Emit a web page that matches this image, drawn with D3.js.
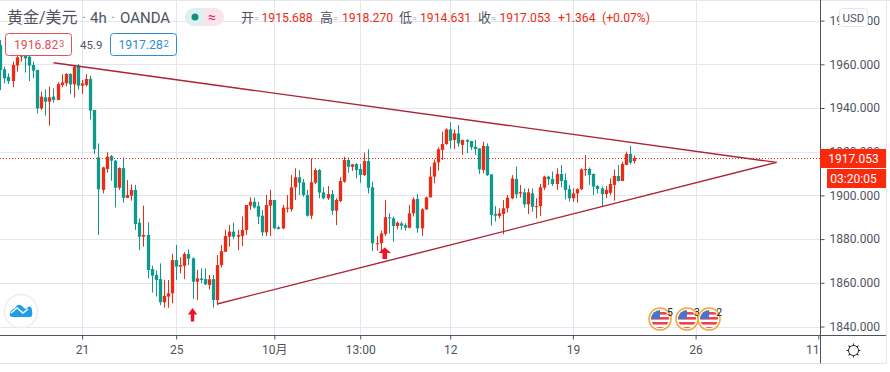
<!DOCTYPE html>
<html>
<head>
<meta charset="utf-8">
<script src="https://cdn.jsdelivr.net/npm/d3@7"></script>
<style>
  body { margin: 0; background: #fff; }
  text { font-family: Roboto, "Noto Sans CJK SC", sans-serif; }
</style>
</head>
<body>
<svg id="chart" width="890" height="372"></svg>
<script>
// 4h candles
const opens = [
  1968.8,1957.7,1954.3,1952.3,1959.4,1963.5,1966.5,1963.5,1959.7,1957.4,
  1939.8,1944.9,1942.9,1945.2,1943.7,1950.5,1951.3,1955.6,1950.8,1959.4,
  1950.2,1950.5,1953.3,1939.1,1917.4,1902.5,1912.1,1918.0,1915.9,1903.5,
  1912.5,1898.9,1899.9,1902.5,1887.5,1881.1,1881.9,1866.3,1863.6,1861.7,
  1851.1,1853.7,1855.2,1870.4,1867.4,1867.8,1873.2,1871.2,1860.5,1862.0,
  1861.7,1859.0,1861.7,1852.1,1868.1,1874.2,1881.1,1883.4,1881.1,1881.4,
  1884.2,1895.3,1897.1,1895.1,1890.7,1883.1,1895.3,1897.9,1885.4,1884.9,
  1893.9,1893.6,1903.7,1908.3,1906.0,1900.2,1890.7,1905.8,1911.6,1901.4,
  1898.7,1900.6,1893.0,1897.4,1906.3,1916.2,1913.1,1914.4,1912.1,1909.3,
  1915.7,1903.7,1877.9,1878.1,1882.3,1890.0,1889.5,1886.0,1887.2,1886.4,
  1885.2,1891.8,1898.4,1884.9,1893.6,1899.1,1908.6,1915.1,1920.8,1923.5,
  1930.2,1925.4,1928.4,1923.1,1925.4,1924.9,1922.3,1921.5,1911.6,1922.6,
  1909.6,1891.5,1890.6,1891.5,1894.1,1898.7,1907.5,1900.9,1901.4,1895.9,
  1900.9,1894.8,1895.1,1903.5,1908.6,1907.5,1905.2,1909.8,1907.0,1902.9,
  1898.7,1900.9,1902.8,1911.6,1912.1,1909.8,1904.3,1903.2,1900.6,1901.2,
  1904.8,1908.9,1906.6,1913.9,1919.0,1915.688
];
const highs = [
  1971.1,1958.9,1955.9,1961.2,1963.8,1966.5,1968.0,1966.5,1961.2,1957.4,
  1947.5,1948.5,1949.8,1949.0,1951.7,1955.4,1955.9,1955.9,1959.7,1960.1,
  1952.8,1955.4,1954.8,1939.1,1923.8,1913.1,1919.7,1918.5,1916.2,1912.8,
  1917.4,1907.0,1905.0,1904.8,1889.5,1895.3,1887.7,1867.8,1865.6,1868.9,
  1861.3,1861.3,1873.2,1877.3,1871.7,1874.0,1875.3,1871.7,1865.9,1866.6,
  1866.6,1863.6,1863.6,1872.7,1877.3,1884.2,1886.5,1887.5,1884.2,1890.3,
  1895.6,1899.1,1899.0,1897.1,1893.3,1900.2,1902.5,1897.9,1886.0,1895.6,
  1900.2,1909.3,1912.4,1911.6,1907.5,1902.5,1917.0,1912.4,1912.1,1903.7,
  1904.3,1902.5,1898.7,1908.3,1917.7,1917.4,1914.4,1914.7,1914.4,1919.6,
  1921.1,1906.3,1881.4,1883.9,1897.9,1891.8,1890.3,1888.0,1888.0,1887.2,
  1895.6,1899.1,1900.6,1894.1,1899.4,1913.1,1916.5,1922.0,1929.2,1930.7,
  1933.3,1930.2,1932.2,1925.4,1925.7,1925.0,1925.4,1921.5,1924.6,1923.8,
  1909.6,1895.1,1894.1,1897.9,1900.2,1909.3,1913.2,1904.8,1903.2,1903.2,
  1903.2,1898.7,1905.2,1909.0,1909.0,1910.9,1912.4,1913.9,1910.1,1904.8,
  1903.2,1903.2,1912.4,1918.5,1912.8,1910.1,1904.8,1904.0,1904.3,1907.8,
  1911.9,1913.9,1915.4,1920.0,1922.6,1918.270
];
const lows = [
  1948.2,1951.3,1951.0,1949.5,1956.6,1961.2,1956.2,1952.3,1953.6,1937.6,
  1939.1,1936.5,1931.9,1942.4,1943.7,1949.5,1950.0,1946.4,1944.7,1948.5,
  1946.4,1949.8,1934.8,1918.9,1881.9,1900.9,1910.4,1906.7,1894.5,1902.5,
  1896.7,1898.9,1897.6,1884.2,1875.0,1876.5,1862.0,1855.5,1853.7,1849.8,
  1848.6,1848.6,1850.6,1861.3,1864.3,1861.7,1868.1,1852.6,1852.1,1859.8,
  1859.0,1857.0,1848.6,1849.8,1867.0,1874.2,1876.5,1880.0,1875.0,1876.8,
  1881.9,1893.3,1894.0,1886.9,1881.4,1881.4,1881.4,1884.5,1884.5,1884.6,
  1892.2,1892.6,1897.9,1900.2,1899.4,1890.3,1889.2,1905.2,1898.7,1898.2,
  1897.9,1891.0,1886.4,1897.0,1905.8,1910.4,1911.2,1907.8,1905.8,1908.9,
  1900.9,1874.5,1874.7,1873.5,1881.4,1882.6,1878.8,1884.5,1884.2,1883.9,
  1884.9,1890.3,1882.9,1881.4,1893.3,1899.1,1905.5,1911.3,1916.2,1923.1,
  1921.5,1921.2,1922.3,1918.5,1919.3,1920.8,1918.5,1909.8,1910.1,1908.9,
  1886.1,1888.0,1889.5,1882.2,1892.2,1898.2,1898.7,1899.0,1894.4,1891.5,
  1892.6,1889.5,1890.6,1902.5,1904.8,1904.3,1902.5,1903.7,1898.2,1897.1,
  1897.1,1896.7,1902.5,1909.0,1904.8,1900.2,1900.9,1894.8,1898.7,1900.2,
  1897.6,1906.3,1906.6,1913.9,1914.2,1914.631
];
const closes = [
  1957.4,1953.6,1952.3,1959.7,1963.2,1965.8,1962.7,1959.4,1957.1,1939.8,
  1945.2,1942.9,1944.9,1943.7,1951.0,1951.7,1955.6,1950.8,1958.9,1950.2,
  1951.3,1953.3,1938.8,1921.2,1902.8,1912.8,1917.7,1915.9,1903.5,1912.5,
  1898.9,1900.2,1902.5,1886.9,1881.1,1881.9,1865.8,1863.3,1861.3,1851.1,
  1854.0,1855.2,1870.4,1867.4,1868.1,1873.2,1871.0,1860.5,1862.0,1861.3,
  1859.3,1861.6,1852.1,1868.1,1874.5,1881.4,1883.4,1881.1,1881.9,1884.2,
  1895.6,1897.1,1894.5,1890.3,1883.1,1895.6,1897.9,1884.9,1884.6,1894.4,
  1894.4,1903.7,1908.3,1905.8,1900.2,1890.7,1906.0,1911.6,1901.3,1898.7,
  1900.6,1893.0,1897.9,1906.6,1916.2,1913.1,1914.2,1911.6,1909.3,1915.7,
  1903.5,1878.1,1878.1,1882.6,1890.0,1889.5,1886.0,1887.5,1886.1,1885.2,
  1891.8,1898.2,1884.9,1893.6,1899.1,1908.6,1915.1,1921.1,1923.5,1930.2,
  1925.0,1928.4,1923.8,1925.4,1924.6,1922.0,1921.2,1911.9,1922.6,1909.3,
  1891.0,1890.7,1891.8,1894.1,1899.0,1907.8,1900.5,1901.5,1895.9,1901.4,
  1894.8,1895.1,1903.7,1908.6,1907.4,1905.2,1909.8,1906.6,1902.5,1898.7,
  1900.9,1902.9,1911.9,1912.1,1909.3,1904.0,1902.9,1900.6,1902.5,1905.2,
  1908.9,1906.6,1914.4,1919.0,1915.0,1917.053
];

const priceTicks = [1980, 1960, 1940, 1920, 1900, 1880, 1860, 1840];
const timeIdx = [20, 43, 67, 88, 110, 140, 170, 200];
const timeLabels = ['21', '25', '10月', '13:00', '12', '19', '26', '11'];

// trend lines as [candle index, price]
const upperLine = [[13, 1960.7], [189.8, 1915.1]];
const lowerLine = [[53, 1850.3], [189.8, 1915.1]];

const lastPrice = 1917.053;
const arrows = [{ i: 47, p: 1848.5, sx: 0.85, sy: 1 }, { i: 94, p: 1876.2, sx: 1.15, sy: 0.85 }];
const events = [{ i: 161.3, n: '5' }, { i: 167.9, n: '3' }, { i: 173.3, n: '2' }];
const eventPrice = 1843.4;

const RED = '#ea2c16', TEAL = '#0d9a8a', GRID = '#e3e6ec', AXIS = '#50535e', TEXT = '#50535e';
const TREND = '#ac2236';

const svg = d3.select('#chart');
const axisX = 820.5, axisY = 335.5, bottomY = 363.5;

const x = d3.scaleLinear().domain([0, 200]).range([0.3, 818.3]);
const y = d3.scaleLinear().domain([1840, 1980]).range([326.5, 20.6]);

// frame
svg.append('line').attr('x1', 0).attr('x2', 890).attr('y1', 0.5).attr('y2', 0.5).attr('stroke', GRID);
svg.append('line').attr('x1', 0).attr('x2', 886).attr('y1', bottomY).attr('y2', bottomY).attr('stroke', GRID);
svg.append('line').attr('x1', 886.5).attr('x2', 886.5).attr('y1', 0).attr('y2', bottomY).attr('stroke', GRID);

// grid
svg.append('g').selectAll('line').data(priceTicks).join('line')
  .attr('x1', 0).attr('x2', axisX)
  .attr('y1', d => Math.round(y(d)) + 0.5).attr('y2', d => Math.round(y(d)) + 0.5)
  .attr('stroke', GRID);
svg.append('g').selectAll('line').data(timeIdx.slice(0, -1)).join('line')
  .attr('x1', d => Math.round(x(d)) + 0.5).attr('x2', d => Math.round(x(d)) + 0.5)
  .attr('y1', 0).attr('y2', axisY)
  .attr('stroke', GRID);

// candles
const idx = d3.range(closes.length);
const color = i => closes[i] >= opens[i] ? RED : TEAL;
const candles = svg.append('g');
candles.selectAll('line').data(idx).join('line')
  .attr('x1', i => Math.round(x(i)) + 0.5).attr('x2', i => Math.round(x(i)) + 0.5)
  .attr('y1', i => y(highs[i])).attr('y2', i => y(lows[i]))
  .attr('stroke', color);
candles.selectAll('rect').data(idx).join('rect')
  .attr('x', i => Math.round(x(i)) - 1.15).attr('width', 3.3)
  .attr('y', i => y(Math.max(opens[i], closes[i])))
  .attr('height', i => Math.max(1, Math.abs(y(opens[i]) - y(closes[i]))))
  .attr('fill', color);

// last price line
svg.append('line').attr('x1', 0).attr('x2', axisX)
  .attr('y1', Math.round(y(lastPrice)) + 0.5).attr('y2', Math.round(y(lastPrice)) + 0.5)
  .attr('stroke', RED).attr('stroke-dasharray', '1,2');

// trend lines
const trend = d3.line().x(d => x(d[0])).y(d => y(d[1]));
svg.append('g').selectAll('path').data([upperLine, lowerLine]).join('path')
  .attr('d', trend).attr('fill', 'none').attr('stroke', TREND).attr('stroke-width', 1.4);

// arrows
svg.append('g').selectAll('path').data(arrows).join('path')
  .attr('transform', d => `translate(${x(d.i)},${y(d.p)}) scale(${d.sx},${d.sy})`)
  .attr('d', 'M0,0 L5.5,6.5 L2,6.5 L2,13.5 L-2,13.5 L-2,6.5 L-5.5,6.5 Z')
  .attr('fill', '#f0102a');

// axes
const priceAxis = svg.append('g').attr('transform', `translate(${axisX},0)`)
  .call(d3.axisRight(y).tickValues(priceTicks).tickSize(4).tickPadding(5).tickFormat(d3.format('.3f')));
priceAxis.select('.domain').remove();
priceAxis.selectAll('.tick line').attr('stroke', AXIS);
priceAxis.selectAll('text').attr('font-size', 12).attr('fill', TEXT)
  .style('font-family', 'Roboto');

const timeAxis = svg.append('g').attr('transform', `translate(0,${axisY})`)
  .call(d3.axisBottom(x).tickValues(timeIdx).tickSize(4).tickPadding(6)
    .tickFormat((d, i) => timeLabels[i]));
timeAxis.select('.domain').remove();
timeAxis.selectAll('.tick line').attr('stroke', AXIS);
timeAxis.selectAll('text').attr('font-size', 12).attr('fill', TEXT);
timeAxis.selectAll('.tick').filter(d => d === 200).select('text').attr('dx', -6);

svg.append('line').attr('x1', 0).attr('x2', 886).attr('y1', axisY).attr('y2', axisY).attr('stroke', AXIS);
svg.append('line').attr('x1', axisX).attr('x2', axisX).attr('y1', 0).attr('y2', bottomY).attr('stroke', AXIS);

// price tags
function tag(x0, y0, w, h, label) {
  svg.append('rect').attr('x', x0).attr('y', y0).attr('width', w).attr('height', h).attr('fill', '#fb2a0c');
  svg.append('text').attr('x', 853.5).attr('y', y0 + h / 2 + 4.3).attr('text-anchor', 'middle')
    .attr('font-size', 12).attr('fill', '#fff').text(label);
}
tag(820, 149, 66, 19, d3.format('.3f')(lastPrice));
tag(827, 169, 59, 19, '03:20:05');

// USD button
svg.append('rect').attr('x', 839.5).attr('y', 8.5).attr('width', 28).attr('height', 18).attr('rx', 3)
  .attr('fill', '#fff').attr('stroke', GRID);
svg.append('text').attr('x', 853.5).attr('y', 21.5).attr('text-anchor', 'middle')
  .attr('font-size', 11.5).attr('fill', TEXT).text('USD');

// header
function label(xp, yp, str, size, fill, spacing) {
  return svg.append('text').attr('x', xp).attr('y', yp).attr('font-size', size).attr('fill', fill)
    .attr('letter-spacing', spacing || 0).text(str);
}
label(7, 23, '黄金/美元', 16, TEXT);
label(82, 23, '·', 15, '#9598a1');
label(90, 23, '4h', 15, TEXT);
label(111, 23, '·', 15, '#9598a1');
label(120, 23, 'OANDA', 15, TEXT);

svg.append('rect').attr('x', 185).attr('y', 8).attr('width', 39).attr('height', 18).attr('rx', 9).attr('fill', '#fbe3ec');
svg.append('path').attr('d', 'M194,8 A9,9 0 0 0 194,26 L204,26 L204,8 Z').attr('fill', '#dff1ef');
svg.append('circle').attr('cx', 195).attr('cy', 17).attr('r', 3.5).attr('fill', '#12907f');
label(208, 22, '≈', 14, '#e0246f');

const ohlcRows = [
  ['开', 241, '1915.688', 261.5], ['高', 320, '1918.270', 342],
  ['低', 399, '1914.631', 420], ['收', 478, '1917.053', 499.5]
];
ohlcRows.forEach(r => {
  label(r[1], 22, r[0], 13, TEXT);
  label(r[1] + 13, 22, '=', 9, '#8a8d96');
  label(r[3], 22, r[2], 12.2, RED);
});
label(558, 22, '+1.364', 12.2, RED);
label(602, 22, '(+0.07%)', 12.2, RED);

// buy / sell boxes
[[5.5, 33.5, 66, '#e2505a'], [110.5, 33.5, 66, '#2a8fd8']].forEach(b => {
  svg.append('rect').attr('x', b[0]).attr('y', b[1]).attr('width', b[2]).attr('height', 22).attr('rx', 3)
    .attr('fill', '#fff').attr('stroke', b[3]);
});
label(14, 49, '1916.82', 12.2, '#e2505a');
label(59, 47, '3', 9.5, '#e2505a');
label(80, 49, '45.9', 11.5, TEXT);
label(118.5, 49, '1917.28', 12.2, '#2a8fd8');
label(163.5, 47, '2', 9.5, '#2a8fd8');

// logo
svg.append('circle').attr('cx', 21).attr('cy', 311).attr('r', 16.5).attr('fill', '#fff').attr('stroke', '#eceef2').attr('stroke-width', 1.5);
svg.append('path').attr('d', 'M10,316 C9,311 13,309 15,308 C17,304 20,304 23,307 C25,309 26,310 28,307 C30,305 33,309 32,312 C33,314 32,317 30,317 L12,317 Z').attr('fill', '#1e9de8');
svg.append('path').attr('d', 'M11,313 L17,308 L23,313 L28,309').attr('fill', 'none').attr('stroke', '#fff').attr('stroke-width', 1.5);

// economic event flags
const defs = svg.append('defs');
defs.append('clipPath').attr('id', 'flagClip').append('circle').attr('r', 9);
const flags = svg.append('g').selectAll('g').data(events).join('g')
  .attr('transform', d => `translate(${x(d.i)},${y(eventPrice)})`);
flags.append('circle').attr('r', 11).attr('fill', '#fff').attr('stroke', '#f5a73a').attr('stroke-width', 1.5);
const flagInner = flags.append('g').attr('clip-path', 'url(#flagClip)');
flagInner.append('rect').attr('x', -10).attr('y', -10).attr('width', 20).attr('height', 20).attr('fill', '#fff');
[-7, -2, 3, 8].forEach(s => {
  flagInner.append('rect').attr('x', -10).attr('y', s).attr('width', 20).attr('height', 2.5).attr('fill', '#ef3b4a');
});
flagInner.append('rect').attr('x', -10).attr('y', -10).attr('width', 10).attr('height', 10).attr('fill', '#4a74c9');
flags.append('text').attr('x', 10).attr('y', -3).attr('text-anchor', 'middle')
  .attr('font-size', 10.5).attr('fill', '#222').text(d => d.n);

// settings gear
const gear = svg.append('g').attr('transform', 'translate(853.5,350.5)');
gear.append('circle').attr('r', 5).attr('fill', 'none').attr('stroke', '#222').attr('stroke-width', 1);
d3.range(8).forEach(k => {
  gear.append('line').attr('y1', -5).attr('y2', -7).attr('transform', `rotate(${k * 45})`)
    .attr('stroke', '#222').attr('stroke-width', 1);
});
</script>
</body>
</html>
